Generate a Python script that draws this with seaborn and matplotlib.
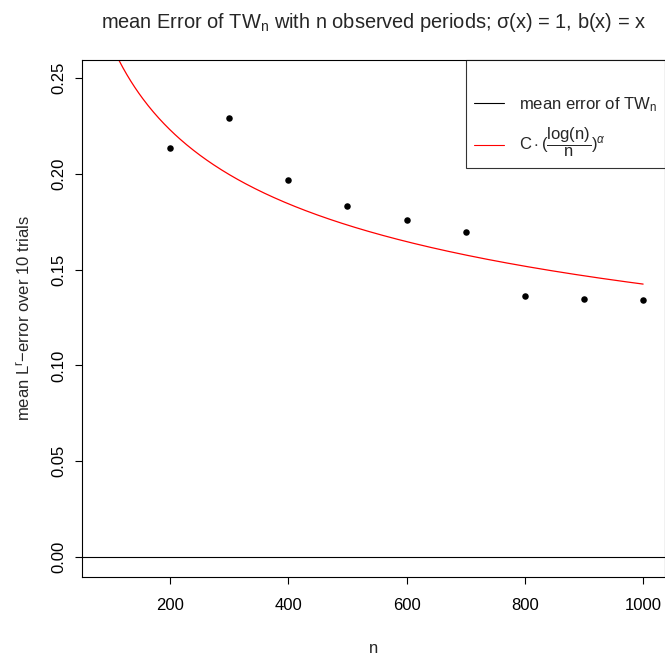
import numpy as np
import pandas as pd
import matplotlib
matplotlib.use("Agg")
import matplotlib.pyplot as plt
from matplotlib.lines import Line2D
import seaborn as sns

# observed periods and mean error of TW_n
n_obs = [200, 300, 400, 500, 600, 700, 800, 900, 1000]
mean_err = [0.2135, 0.2291, 0.1968, 0.1832, 0.1759, 0.1696, 0.1362, 0.1347, 0.1341]

# rate curve C * (log(n)/n)^alpha
C = 0.748
ALPHA = 1 / 3
n_min, n_max = 100, 1000

x_ticks = [200, 400, 600, 800, 1000]
y_ticks = [0.00, 0.05, 0.10, 0.15, 0.20, 0.25]

sns.set_style("white")
plt.rcParams["font.family"] = ["Liberation Sans", "DejaVu Sans"]
plt.rcParams["mathtext.fontset"] = "custom"
plt.rcParams["mathtext.rm"] = "Liberation Sans"
plt.rcParams["mathtext.it"] = "Liberation Sans:italic"
plt.rcParams["mathtext.sf"] = "Liberation Sans"

fs = 12
fig = plt.figure(figsize=(6.65, 6.59), dpi=100)
ax = fig.add_axes([82 / 665, 1 - 577 / 659, 1 - 82 / 665, (577 - 60) / 659])

points = pd.DataFrame({"n": n_obs, "err": mean_err})
n_grid = np.linspace(n_min, n_max, 400)
curve = pd.DataFrame({"n": n_grid, "rate": C * (np.log(n_grid) / n_grid) ** ALPHA})

ax.axhline(0, color="black", lw=0.8, zorder=1)
sns.lineplot(data=curve, x="n", y="rate", color="red", lw=0.9, ax=ax, zorder=2)
sns.scatterplot(data=points, x="n", y="err", color="black", s=22, edgecolor="black",
                linewidth=0, ax=ax, zorder=3)

ax.set_xlim(51.2, 1037)
ax.set_ylim(-0.0104, 0.2594)
ax.set_xticks(x_ticks)
ax.set_xticklabels([str(t) for t in x_ticks])
ax.set_yticks(y_ticks)
ax.set_yticklabels([f"{t:.2f}" for t in y_ticks], rotation=90, va="center")
ax.tick_params(axis="both", direction="out", length=5, width=0.8, color="black",
               labelsize=fs, labelcolor="black", bottom=True, left=True)
ax.tick_params(axis="x", pad=10)
ax.tick_params(axis="y", pad=6.5)
for sp in ax.spines.values():
    sp.set_color("black")
    sp.set_linewidth(0.8)

ax.set_xlabel("n", fontsize=fs, labelpad=20)
ax.set_ylabel(r"mean L$^\mathrm{r}$$-$error over 10 trials", fontsize=fs, labelpad=13)
ax.set_title(r"mean Error of TW$_\mathrm{n}$ with n observed periods; σ(x) = 1, b(x) = x",
             fontsize=14.4, pad=23)

handles = [Line2D([], [], color="black", lw=0.8), Line2D([], [], color="red", lw=0.8)]
labels = [r"mean error of TW$_\mathrm{n}$",
          r"$\mathrm{C}\cdot(\dfrac{\mathrm{log(n)}}{\mathrm{n}})^{\alpha}$"]
leg = ax.legend(handles, labels, loc="upper right", bbox_to_anchor=(1.0, 1.0),
                borderaxespad=0, fancybox=False, frameon=True, fontsize=fs,
                handlelength=1.8, handletextpad=0.85, labelspacing=0.75,
                borderpad=0.5, title=" ", title_fontsize=11)
leg.get_frame().set_edgecolor("black")
leg.get_frame().set_linewidth(0.8)

fig.savefig("out.png", dpi=100)
